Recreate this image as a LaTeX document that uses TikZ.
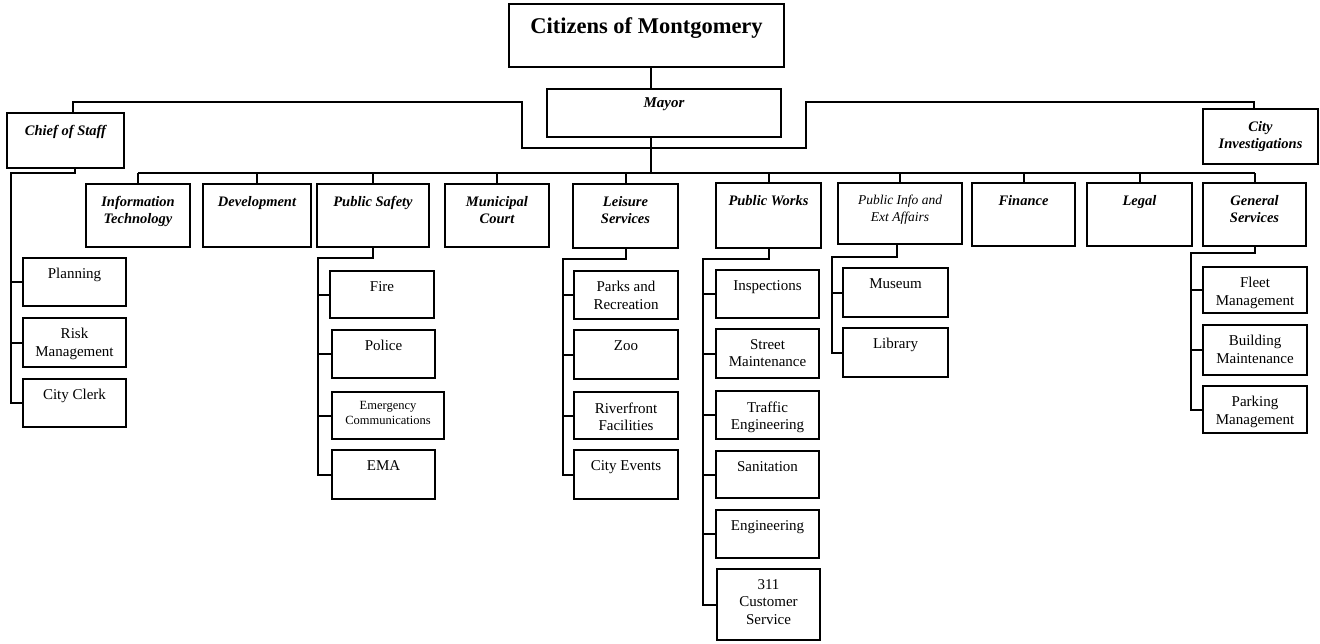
\documentclass[tikz,border=0pt]{standalone}
\usepackage{fontspec}
\setmainfont{Liberation Serif}
\usetikzlibrary{positioning}
\tikzstyle{orgbox}=[draw,line width=1.4pt,inner sep=0]
\tikzstyle{conn}=[line width=2pt]
\tikzstyle{toplbl}=[anchor=north,align=center,inner sep=0]
\tikzstyle{headtxt}=[toplbl,yshift=-14pt,font=\fontsize{22.5}{26}\selectfont\bfseries]
\tikzstyle{mayortxt}=[toplbl,yshift=-9pt,font=\fontsize{15}{17}\selectfont\bfseries\itshape]
\tikzstyle{depttxt}=[toplbl,yshift=-12.5pt,font=\fontsize{14.5}{17}\selectfont\bfseries\itshape]
\tikzstyle{infotxt}=[toplbl,yshift=-12pt,font=\fontsize{13.5}{17}\selectfont\itshape]
\tikzstyle{unittxt}=[toplbl,yshift=-11pt,font=\fontsize{15}{17.5}\selectfont]
\tikzstyle{smalltxt}=[toplbl,yshift=-10pt,font=\fontsize{12.5}{15}\selectfont]
% box from (left,top) to (right,bottom), text hung from the top edge
\newcommand{\orgbox}[7]{%
  \node[orgbox,minimum width=#5pt-#3pt,minimum height=#6pt-#4pt,
    label={[#1]north:{#7}}] (#2) at ({(#3+#5)/2},{(#4+#6)/2}) {};}

\begin{document}
\begin{tikzpicture}[x=1pt,y=-1pt]
\useasboundingbox (0,0) rectangle (1320,643);

% top levels
\orgbox{headtxt}{citizens}{509}{4}{784}{67}{Citizens of Montgomery}
\orgbox{mayortxt}{mayor}{547}{89}{781}{137}{Mayor}
\orgbox{depttxt}{chief}{7}{113}{124}{168}{Chief of Staff}
\orgbox{depttxt}{cityinv}{1203}{109}{1318}{164}{City\\Investigations}

% departments
\orgbox{depttxt}{it}{86}{184}{190}{247}{Information\\Technology}
\orgbox{depttxt}{dev}{203}{184}{311}{247}{Development}
\orgbox{depttxt}{psafety}{317}{184}{429}{247}{Public Safety}
\orgbox{depttxt}{court}{445}{184}{549}{247}{Municipal\\Court}
\orgbox{depttxt}{leisure}{573}{184}{678}{248}{Leisure\\Services}
\orgbox{depttxt}{pworks}{716}{183}{821}{248}{Public Works}
\orgbox{infotxt}{pubinfo}{838}{183}{962}{244}{Public Info and\\Ext Affairs}
\orgbox{depttxt}{finance}{972}{183}{1075}{246}{Finance}
\orgbox{depttxt}{legal}{1087}{183}{1192}{246}{Legal}
\orgbox{depttxt}{gensvc}{1203}{183}{1306}{246}{General\\Services}

% divisions
\orgbox{unittxt}{planning}{23}{258}{126}{306}{Planning}
\orgbox{unittxt}{risk}{23}{318}{126}{367}{Risk\\Management}
\orgbox{unittxt}{clerk}{23}{379}{126}{427}{City Clerk}

\orgbox{unittxt}{fire}{330}{271}{434}{318}{Fire}
\orgbox{unittxt}{police}{332}{330}{435}{378}{Police}
\orgbox{smalltxt}{emcomm}{332}{392}{444}{439}{Emergency\\Communications}
\orgbox{unittxt}{ema}{332}{450}{435}{499}{EMA}

\orgbox{unittxt}{parks}{574}{271}{678}{319}{Parks and\\Recreation}
\orgbox{unittxt}{zoo}{574}{330}{678}{379}{Zoo}
\orgbox{unittxt}{river}{574}{392}{678}{439}{Riverfront\\Facilities}
\orgbox{unittxt}{events}{574}{450}{678}{499}{City Events}

\orgbox{unittxt}{insp}{716}{270}{819}{318}{Inspections}
\orgbox{unittxt}{street}{716}{329}{819}{378}{Street\\Maintenance}
\orgbox{unittxt}{traffic}{716}{391}{819}{439}{Traffic\\Engineering}
\orgbox{unittxt}{sanit}{716}{451}{819}{498}{Sanitation}
\orgbox{unittxt}{engin}{716}{510}{819}{558}{Engineering}
\orgbox{unittxt}{cust}{717}{569}{820}{640}{311\\Customer\\Service}

\orgbox{unittxt}{museum}{843}{268}{948}{317}{Museum}
\orgbox{unittxt}{library}{843}{328}{948}{377}{Library}

\orgbox{unittxt}{fleet}{1203}{267}{1307}{313}{Fleet\\Management}
\orgbox{unittxt}{building}{1203}{325}{1307}{375}{Building\\Maintenance}
\orgbox{unittxt}{parking}{1203}{386}{1307}{433}{Parking\\Management}

% connectors
\coordinate (lbrk) at (522,102);
\coordinate (rbrk) at (806,102);
\coordinate (mid) at (0,148);
\coordinate (bus) at (0,173);
\draw[conn] ([xshift=4pt]citizens.south) -- ([xshift=4pt]citizens.south |- mayor.north);
\draw[conn] ([xshift=-13pt]mayor.south) -- ([xshift=-13pt]mayor.south |- bus);
\draw[conn] ([xshift=7pt]chief.north) |- (lbrk) -- (lbrk |- mid) -- (rbrk |- mid) -- (rbrk) -| ([xshift=-7pt]cityinv.north);
\draw[conn] (it.north |- bus) -- (gensvc.north |- bus);
\foreach \d in {it,dev,psafety,court,leisure,pworks,pubinfo,finance,legal,gensvc}
  \draw[conn] (\d.north) -- (\d.north |- bus);

\coordinate (cosspine) at (11,173);
\draw[conn] ([xshift=9pt]chief.south) |- (cosspine) |- (clerk.west);
\foreach \c in {planning,risk}
  \draw[conn] (cosspine |- \c.west) -- (\c.west);

\coordinate (psspine) at (318,258);
\draw[conn] (psafety.south) |- (psspine) |- (ema.west);
\foreach \c in {fire,police,emcomm}
  \draw[conn] (psspine |- \c.west) -- (\c.west);

\coordinate (lsspine) at (563,259);
\draw[conn] (leisure.south) |- (lsspine) |- (events.west);
\foreach \c in {parks,zoo,river}
  \draw[conn] (lsspine |- \c.west) -- (\c.west);

\coordinate (pwspine) at (703,259);
\draw[conn] (pworks.south) |- (pwspine) |- (cust.west);
\foreach \c in {insp,street,traffic,sanit,engin}
  \draw[conn] (pwspine |- \c.west) -- (\c.west);

\coordinate (pispine) at (832,257);
\draw[conn] ([xshift=-3pt]pubinfo.south) |- (pispine) |- (library.west);
\draw[conn] (pispine |- museum.west) -- (museum.west);

\coordinate (gsspine) at (1191,253);
\draw[conn] (gensvc.south) |- (gsspine) |- (parking.west);
\foreach \c in {fleet,building}
  \draw[conn] (gsspine |- \c.west) -- (\c.west);
\end{tikzpicture}
\end{document}
